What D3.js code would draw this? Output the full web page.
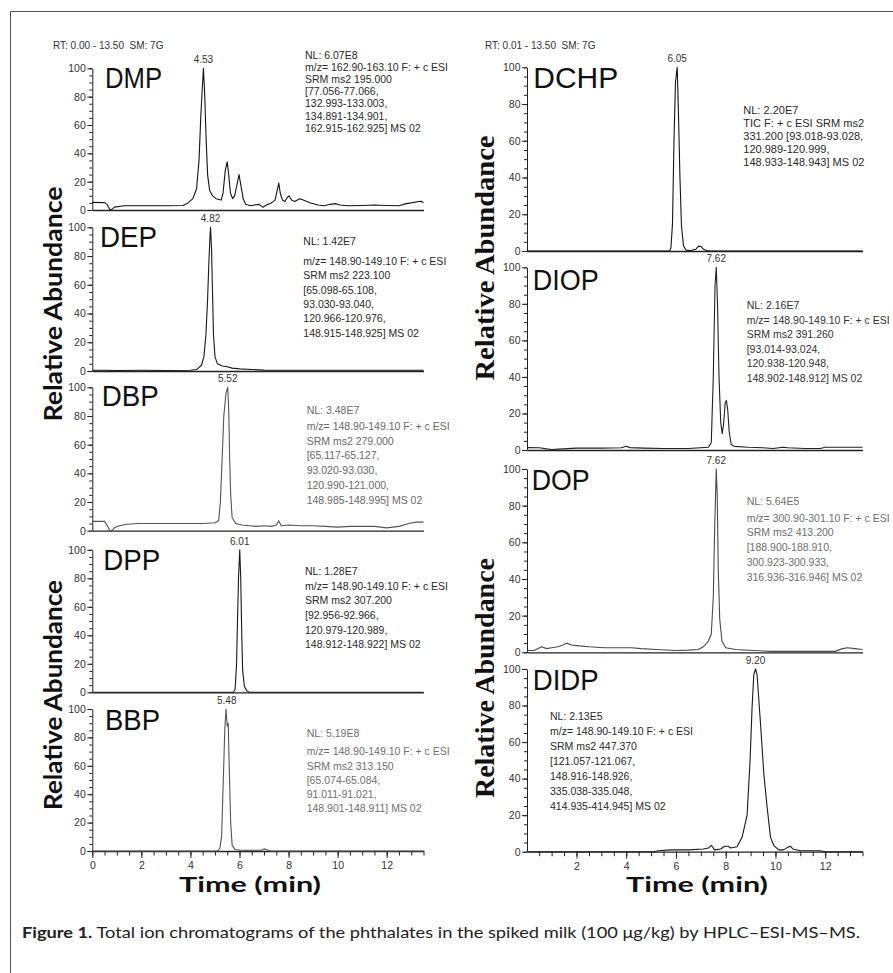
<!DOCTYPE html>
<html>
<head>
<meta charset="utf-8">
<script src="https://cdn.jsdelivr.net/npm/d3@7"></script>
<style>
  body { margin: 0; background: #fff; }
  svg { display: block; }
  text { white-space: pre; }
</style>
</head>
<body>
<svg id="chart" width="893" height="973"></svg>
<script>
// ---- data: [time (min), relative abundance %] ----
const dmpTrace = [[0,5.4],[0.5,5.2],[0.6,4],[0.72,0],[0.8,0.5],[0.9,2],[1.3,3],[2,3],[3,3],[3.7,3.2],[3.9,5],[4.1,8],[4.25,15],[4.35,35],[4.42,65],[4.48,85],[4.53,100],[4.58,82],[4.64,50],[4.7,25],[4.78,14],[4.9,10],[5.05,8],[5.25,7],[5.33,12],[5.42,28],[5.5,34],[5.56,25],[5.63,12],[5.72,8],[5.8,10],[5.9,18],[5.98,25],[6.06,17],[6.15,8],[6.25,4],[6.45,3],[6.6,3.5],[6.8,4],[6.95,2],[7.1,3.5],[7.3,5],[7.45,7],[7.55,15],[7.6,19],[7.66,12],[7.75,7],[7.85,6],[7.95,9],[8.02,10],[8.12,7],[8.25,6],[8.45,8],[8.6,7],[8.9,5],[9.2,3.5],[9.45,3],[9.7,4],[9.9,4.5],[10.1,3.5],[10.4,3],[11,3.2],[11.5,3.5],[12,3.2],[12.5,3],[12.8,4.5],[13,5],[13.3,6],[13.4,6.2],[13.5,5]];
const depTrace = [[0,0.5],[0.5,0.5],[1,0.3],[2,0.5],[3,0.4],[4,0.5],[4.25,1],[4.45,4],[4.55,10],[4.63,25],[4.7,50],[4.75,75],[4.8,95],[4.82,100],[4.86,85],[4.9,55],[4.94,25],[5,10],[5.1,5],[5.3,3.5],[5.5,3],[5.7,2],[6,1.5],[6.5,1],[7,0.6],[8,0.5],[10,0.5],[12,0.5],[13.5,0.5]];
const dbpTrace = [[0,6.5],[0.5,6.5],[0.6,4],[0.7,0.5],[0.8,0],[0.9,2],[1.1,3.5],[1.4,4.5],[1.9,5],[3,5],[4.5,5],[5.0,5.5],[5.15,7],[5.22,20],[5.28,45],[5.36,80],[5.45,96],[5.52,100],[5.56,85],[5.6,50],[5.64,25],[5.7,9],[5.85,5],[6.1,4],[6.4,3.5],[6.7,3],[7.0,3.5],[7.3,3],[7.5,4],[7.6,7],[7.7,3.5],[8.0,4],[8.5,3.5],[9,3.5],[9.5,3],[10,2.5],[10.5,3],[11,3],[11.5,3],[12,2],[12.5,3],[12.9,5],[13.2,6],[13.5,6]];
const dppTrace = [[0,0],[5.75,0],[5.82,2],[5.88,20],[5.91,44],[5.96,80],[6.01,100],[6.05,80],[6.09,42],[6.13,15],[6.2,4],[6.3,1],[6.4,0],[13.5,0]];
const bbpTrace = [[0,0],[5.1,0],[5.2,2],[5.27,10],[5.34,50],[5.4,85],[5.45,100],[5.5,88],[5.54,90],[5.58,60],[5.64,20],[5.7,4],[5.82,1],[6.02,0.5],[6.9,0.5],[7.0,1.5],[7.1,1],[7.25,0],[13.5,0]];
const dchpTrace = [[0.01,0],[5.75,0],[5.8,2],[5.86,15],[5.92,60],[5.98,92],[6.05,100],[6.1,75],[6.16,40],[6.22,14],[6.3,3],[6.4,0.5],[6.6,0.3],[6.8,1],[6.9,2.5],[7,2.5],[7.1,1],[7.25,0.3],[7.4,0],[13.5,0]];
const diopTrace = [[0.01,1.3],[0.5,1.2],[0.8,0.6],[1.0,0.3],[1.3,0.5],[2,1],[3,1],[3.8,1.2],[4.0,2],[4.15,1.3],[4.7,1],[5.5,0.8],[6.5,0.8],[7.3,1.5],[7.42,4],[7.5,40],[7.57,90],[7.62,100],[7.67,80],[7.73,40],[7.8,15],[7.86,9],[7.92,15],[7.98,26],[8.03,27],[8.08,22],[8.14,10],[8.22,3],[8.35,2],[8.9,1.5],[9.5,1.2],[9.9,0.8],[10.3,1.5],[10.5,1.2],[11.2,0.8],[11.8,0.8],[12.0,1.5],[12.5,1.5],[13.5,1.5]];
const dopTrace = [[0.01,1],[0.3,1],[0.6,3],[0.8,2],[1.0,2.5],[1.25,3],[1.45,4],[1.6,5],[1.8,4],[2.1,3.5],[2.5,3],[3.1,2.5],[4.2,2.5],[4.6,2],[5.2,1.5],[6.0,1],[6.5,1.2],[6.9,1.5],[7.1,3],[7.3,6],[7.42,10],[7.5,30],[7.56,70],[7.62,100],[7.66,85],[7.7,45],[7.76,18],[7.85,6],[8.0,2.5],[8.4,1.5],[9.1,1],[9.8,0.5],[11,0.5],[12.4,0.5],[12.7,2],[12.9,2.5],[13.2,2],[13.5,1.5]];
const didpTrace = [[0.01,0],[5.1,0],[5.3,0.5],[5.8,1],[6.5,1],[7.1,1.5],[7.3,2],[7.42,3.5],[7.55,1],[7.8,1.5],[7.95,3],[8.1,3],[8.2,2],[8.46,2.7],[8.66,8],[8.86,20],[8.98,50],[9.06,79],[9.13,97],[9.2,100],[9.26,97],[9.4,70],[9.53,43],[9.66,25],[9.8,8],[9.93,3.5],[10.13,1],[10.33,1],[10.5,2.5],[10.6,3],[10.7,1.5],[11,0.5],[11.8,0.5],[12,0],[13.5,0]];

const compounds = ["DMP", "DEP", "DBP", "DPP", "BBP", "DCHP", "DIOP", "DOP", "DIDP"];
const traces = [dmpTrace, depTrace, dbpTrace, dppTrace, bbpTrace, dchpTrace, diopTrace, dopTrace, didpTrace];
const peakTimes = [4.53, 4.82, 5.52, 6.01, 5.48, 6.05, 7.62, 7.62, 9.20];
const peakLabels = ["4.53", "4.82", "5.52", "6.01", "5.48", "6.05", "7.62", "7.62", "9.20"];

const infoText = [
  ["NL: 6.07E8", "m/z= 162.90-163.10 F: + c ESI", "SRM ms2 195.000", "[77.056-77.066,", "132.993-133.003,", "134.891-134.901,", "162.915-162.925] MS 02"],
  ["NL: 1.42E7", "m/z= 148.90-149.10 F: + c ESI", "SRM ms2 223.100", "[65.098-65.108,", "93.030-93.040,", "120.966-120.976,", "148.915-148.925] MS 02"],
  ["NL: 3.48E7", "m/z= 148.90-149.10 F: + c ESI", "SRM ms2 279.000", "[65.117-65.127,", "93.020-93.030,", "120.990-121.000,", "148.985-148.995] MS 02"],
  ["NL: 1.28E7", "m/z= 148.90-149.10 F: + c ESI", "SRM ms2 307.200", "[92.956-92.966,", "120.979-120.989,", "148.912-148.922] MS 02"],
  ["NL: 5.19E8", "m/z= 148.90-149.10 F: + c ESI", "SRM ms2 313.150", "[65.074-65.084,", "91.011-91.021,", "148.901-148.911] MS 02"],
  ["NL: 2.20E7", "TIC F: + c ESI SRM ms2", "331.200 [93.018-93.028,", "120.989-120.999,", "148.933-148.943] MS 02"],
  ["NL: 2.16E7", "m/z= 148.90-149.10 F: + c ESI", "SRM ms2 391.260", "[93.014-93.024,", "120.938-120.948,", "148.902-148.912] MS 02"],
  ["NL: 5.64E5", "m/z= 300.90-301.10 F: + c ESI", "SRM ms2 413.200", "[188.900-188.910,", "300.923-300.933,", "316.936-316.946] MS 02"],
  ["NL: 2.13E5", "m/z= 148.90-149.10 F: + c ESI", "SRM ms2 447.370", "[121.057-121.067,", "148.916-148.926,", "335.038-335.048,", "414.935-414.945] MS 02"]
];

const rtHeaders = ["RT: 0.00 - 13.50  SM: 7G", "RT: 0.01 - 13.50  SM: 7G"];
const xDomains = [[0, 13.5], [0.01, 13.5]];
const yTicks = [0, 20, 40, 60, 80, 100];
const yMinorTicks = d3.range(0, 101, 5);
const xTicks = [[0, 2, 4, 6, 8, 10, 12], [2, 4, 6, 8, 10, 12]];
const xMinorTicks = [d3.range(0, 13.51, 0.5), d3.range(0.5, 13.51, 0.5)];
const yLabel = "Relative Abundance";
const xLabel = "Time (min)";
const captionBold = "Figure 1.";
const captionRest = " Total ion chromatograms of the phthalates in the spiked milk (100 μg/kg) by HPLC–ESI-MS–MS.";

const panels = [
  { col: 0, y0: 210,   y100: 68.3,  nameX: 105,   nameY: 88,  nameW: 57, nlX: 305,   nlY: 58.5, g1: 12.3, gap: 12.2, fs: 10.5, txt: "#2a2a2a", line: "#151515" },
  { col: 0, y0: 371,   y100: 227.3, nameX: 100,   nameY: 247, nameW: 57, nlX: 303.3, nlY: 245,  g1: 20,   gap: 14.3, fs: 10.5, txt: "#2a2a2a", line: "#1a1a1a" },
  { col: 0, y0: 530.7, y100: 387.3, nameX: 101.7, nameY: 406, nameW: 57, nlX: 306.7, nlY: 414,  g1: 16,   gap: 14.7, fs: 10.5, txt: "#6a6a6a", line: "#555" },
  { col: 0, y0: 692.3, y100: 549.8, nameX: 103.3, nameY: 570, nameW: 57, nlX: 305,   nlY: 575,  g1: 14.7, gap: 14.6, fs: 10.5, txt: "#2a2a2a", line: "#1a1a1a" },
  { col: 0, y0: 851,   y100: 709,   nameX: 105,   nameY: 730, nameW: 55, nlX: 306.7, nlY: 737,  g1: 18.4, gap: 14.2, fs: 10.5, txt: "#6f6f6f", line: "#555", bottom: true },
  { col: 1, y0: 251,   y100: 67.3,  nameX: 533.3, nameY: 88,  nameW: 85, nlX: 743.3, nlY: 113.5, g1: 13.3, gap: 13.1, fs: 11, txt: "#2a2a2a", line: "#151515" },
  { col: 1, y0: 450,   y100: 267.3, nameX: 532.7, nameY: 290, nameW: 66, nlX: 746.7, nlY: 308.5, g1: 15,   gap: 14.6, fs: 10.5, txt: "#333", line: "#222" },
  { col: 1, y0: 652.3, y100: 469,   nameX: 531.7, nameY: 490, nameW: 58, nlX: 746.7, nlY: 505,  g1: 16.6, gap: 14.8, fs: 10.5, txt: "#6f6f6f", line: "#4a4a4a" },
  { col: 1, y0: 851.7, y100: 669,   nameX: 532.7, nameY: 690, nameW: 66, nlX: 550,   nlY: 719.5, g1: 15.7, gap: 14.9, fs: 10.5, txt: "#2a2a2a", line: "#1a1a1a", bottom: true }
];
const xRanges = [[92.3, 423.5], [527, 862.5]];
const small = "'Liberation Sans', Arial, sans-serif";

const svg = d3.select("#chart");
svg.append("rect").attr("width", 893).attr("height", 973).attr("fill", "#fff");

// frame: only the top and left edges are inside the crop
svg.append("path").attr("d", "M10.5,973 V11.5 H893")
  .attr("stroke", "#555").attr("stroke-width", 1).attr("fill", "none");

const xScales = xDomains.map((d, i) => d3.scaleLinear(d, xRanges[i]));

rtHeaders.forEach((t, i) => {
  svg.append("text").attr("x", i ? 485 : 53).attr("y", 49)
    .attr("font-family", small).attr("font-size", 10).attr("fill", "#333").text(t);
});

panels.forEach((p, i) => {
  const x = xScales[p.col];
  const y = d3.scaleLinear([0, 100], [p.y0, p.y100]);
  const x0 = x.range()[0];
  const g = svg.append("g");

  // y axis
  const ya = g.append("g").attr("transform", `translate(${x0},0)`)
    .call(d3.axisLeft(y).tickValues(yTicks).tickSize(5).tickSizeOuter(0).tickPadding(1.5));
  ya.selectAll("text").attr("font-family", small).attr("font-size", 10.5).attr("fill", "#333");
  ya.attr("color", "#222");
  const ym = g.append("g").attr("transform", `translate(${x0},0)`)
    .call(d3.axisLeft(y).tickValues(yMinorTicks).tickSize(3).tickFormat(""));
  ym.select(".domain").remove();
  ym.attr("color", "#222");

  // x axis
  const xa = g.append("g").attr("transform", `translate(0,${p.y0})`);
  if (p.bottom) {
    xa.call(d3.axisBottom(x).tickValues(xTicks[p.col]).tickSize(7).tickSizeOuter(0).tickPadding(4).tickFormat(d3.format("d")));
    xa.selectAll("text").attr("font-family", small).attr("font-size", 10.5).attr("fill", "#333");
    const xm = g.append("g").attr("transform", `translate(0,${p.y0})`)
      .call(d3.axisBottom(x).tickValues(xMinorTicks[p.col]).tickSize(4.5).tickFormat(""));
    xm.select(".domain").remove();
    xm.attr("color", "#222");
  } else {
    xa.call(d3.axisBottom(x).tickValues([]).tickSizeOuter(0));
  }
  xa.attr("color", "#222");
  xa.select(".domain").attr("stroke-width", 1.3);

  // trace
  g.append("path").datum(traces[i])
    .attr("fill", "none").attr("stroke", p.line).attr("stroke-width", 1.1).attr("stroke-linejoin", "round")
    .attr("d", d3.line().x(d => x(d[0])).y(d => y(d[1])));

  // peak label
  g.append("text").attr("x", x(peakTimes[i])).attr("y", p.y100 - 5)
    .attr("text-anchor", "middle").attr("font-family", small).attr("font-size", 10)
    .attr("fill", "#333").text(peakLabels[i]);

  // compound name
  g.append("text").attr("x", p.nameX).attr("y", p.nameY)
    .attr("font-family", small).attr("font-size", 29).attr("fill", "#111")
    .attr("textLength", p.nameW).attr("lengthAdjust", "spacingAndGlyphs")
    .text(compounds[i]);

  // NL / scan info
  const info = g.append("text").attr("font-family", small).attr("font-size", p.fs).attr("fill", p.txt);
  infoText[i].forEach((line, k) => {
    info.append("tspan").attr("x", p.nlX)
      .attr("y", p.nlY + (k > 0 ? p.g1 + (k - 1) * p.gap : 0)).text(line);
  });
});

// axis titles
[[62, 304, 235], [62, 695, 230]].forEach(([lx, ly, len]) => {
  svg.append("text").attr("transform", `translate(${lx},${ly}) rotate(-90)`)
    .attr("text-anchor", "middle").attr("font-family", "Lato, 'Open Sans', sans-serif")
    .attr("font-weight", 700).attr("font-size", 24).attr("fill", "#111")
    .attr("textLength", len).attr("lengthAdjust", "spacingAndGlyphs").text(yLabel);
});
[[494, 258, 245], [494, 678, 240]].forEach(([lx, ly, len]) => {
  svg.append("text").attr("transform", `translate(${lx},${ly}) rotate(-90)`)
    .attr("text-anchor", "middle").attr("font-family", "'Liberation Serif', 'Times New Roman', serif")
    .attr("font-weight", 700).attr("font-size", 28).attr("fill", "#111")
    .attr("textLength", len).attr("lengthAdjust", "spacingAndGlyphs").text(yLabel);
});
[250, 697].forEach(cx => {
  svg.append("text").attr("x", cx).attr("y", 892).attr("text-anchor", "middle")
    .attr("font-family", "Lato, 'Open Sans', sans-serif").attr("font-weight", 700)
    .attr("font-size", 21).attr("fill", "#111")
    .attr("textLength", 142).attr("lengthAdjust", "spacingAndGlyphs").text(xLabel);
});

// caption
const cap = svg.append("text").attr("x", 22).attr("y", 938)
  .attr("font-family", "Lato, 'Open Sans', sans-serif").attr("font-size", 15).attr("fill", "#222")
  .attr("textLength", 838).attr("lengthAdjust", "spacingAndGlyphs");
cap.append("tspan").attr("font-weight", 700).text(captionBold);
cap.append("tspan").text(captionRest);
</script>
</body>
</html>
